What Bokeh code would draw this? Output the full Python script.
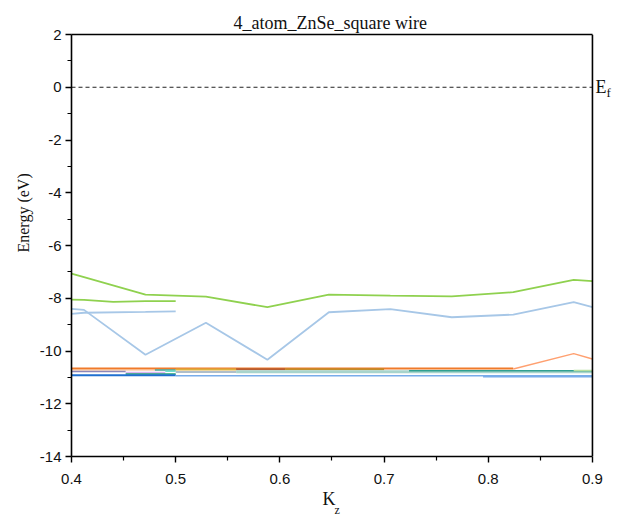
from bokeh.plotting import figure
from bokeh.models import Range1d, FixedTicker, Span, Label, Title, LinearAxis
from bokeh.embed import file_html
from bokeh.resources import INLINE

# ---------------- data ----------------
kz = [0.4, 0.412, 0.471, 0.529, 0.588, 0.647, 0.706, 0.765, 0.824, 0.882, 0.9]
green_1 = [-7.07, -7.2, -7.86, -7.94, -8.34, -7.86, -7.9, -7.93, -7.77, -7.3, -7.35]
blue_1 = [-8.4, -8.44, -10.14, -8.93, -10.33, -8.53, -8.41, -8.72, -8.62, -8.15, -8.34]

kz_short_g = [0.4, 0.412, 0.44, 0.471, 0.5]
green_2 = [-8.05, -8.06, -8.14, -8.11, -8.11]
kz_short_b = [0.4, 0.412, 0.471, 0.5]
blue_2 = [-8.59, -8.55, -8.52, -8.5]

kz_rise = [0.824, 0.882, 0.9]
orange_rise = [-10.68, -10.1, -10.3]

# nearly flat lower bands: start k, end k, energy
cluster_k0 = [0.4, 0.4, 0.48, 0.5, 0.558, 0.605, 0.4, 0.452, 0.49, 0.5, 0.558, 0.724, 0.452, 0.4, 0.5, 0.795, 0.882]
cluster_k1 = [0.824, 0.48, 0.5, 0.558, 0.605, 0.7, 0.452, 0.49, 0.5, 0.558, 0.9, 0.9, 0.5, 0.5, 0.9, 0.9, 0.9]
cluster_e = [-10.66, -10.71, -10.72, -10.70, -10.69, -10.69, -10.78, -10.82, -10.77, -10.80, -10.79, -10.75, -10.87, -10.92, -10.94, -10.98, -10.74]

fermi_level = 0.0
x_ticks = [0.4, 0.5, 0.6, 0.7, 0.8, 0.9]
x_minor = [0.45, 0.55, 0.65, 0.75, 0.85]
y_ticks = [-14, -12, -10, -8, -6, -4, -2, 0, 2]
y_minor = [-13, -11, -9, -7, -5, -3, -1, 1]

# ---------------- styles ----------------
cluster_colors = ["#f07a2a", "#f8b888", "#40a090", "#dcae3c", "#b85c30", "#c48a28",
                  "#8c86b8", "#dab4f2", "#70e0d0", "#94a8b8", "#a8d4cc", "#30a090",
                  "#20a070", "#1f6fd0", "#78acea", "#78acea", "#b8e0a0"]
cluster_widths = [2, 1.5, 1.5, 2, 2, 2, 1.5, 2, 1.5, 1.5, 3, 1.5, 1.5, 2, 1.5, 1.5, 1.5]

x_lo, x_hi = x_ticks[0], x_ticks[-1]

p = figure(width=613, height=517,
           x_range=Range1d(x_lo, 0.9202), y_range=Range1d(y_ticks[0], y_ticks[-1]),
           output_backend="svg", toolbar_location=None,
           min_border_left=71, min_border_right=0, min_border_top=34, min_border_bottom=61)

p.title.text = "4_atom_ZnSe_square wire"
p.title.align = "left"
p.title.offset = 162
p.title.text_font = "Liberation Serif"
p.title.text_font_size = "18px"
p.title.text_font_style = "normal"
p.title.text_color = "#111111"
p.title.standoff = 4

p.xgrid.visible = False
p.ygrid.visible = False
p.outline_line_color = None

for ax in (p.xaxis[0], p.yaxis[0]):
    ax.axis_line_width = 1.6
    ax.axis_line_color = "black"
    ax.major_tick_line_color = "black"
    ax.minor_tick_line_color = "black"
    ax.major_tick_line_width = 1.4
    ax.minor_tick_line_width = 1.2
    ax.major_tick_in = 0
    ax.major_tick_out = 6
    ax.minor_tick_in = 0
    ax.minor_tick_out = 4
    ax.major_label_text_font = "Liberation Sans"
    ax.major_label_text_font_size = "15px"
    ax.major_label_text_color = "#111111"

p.xaxis[0].bounds = (x_lo, x_hi)
p.xaxis[0].ticker = FixedTicker(ticks=x_ticks, minor_ticks=x_minor)
p.yaxis[0].ticker = FixedTicker(ticks=y_ticks, minor_ticks=y_minor)
p.yaxis[0].major_label_overrides = {t: str(t) for t in y_ticks}
p.xaxis[0].major_label_standoff = 11
p.yaxis[0].major_label_standoff = 4

# y axis title, placed off-centre as in the reference
p.add_layout(Title(text="Energy (eV)", align="left", offset=204, text_font="Liberation Serif",
                   text_font_size="16px", text_font_style="normal", text_color="#111111",
                   standoff=9), "left")

# top border as a bare axis, right border as a span
top = LinearAxis(bounds=(x_lo, x_hi), ticker=FixedTicker(ticks=[], minor_ticks=[]),
                 axis_line_width=1.6, axis_line_color="black",
                 major_tick_out=0, minor_tick_out=0, major_label_standoff=0)
p.add_layout(top, "above")
p.add_layout(Span(location=x_hi, dimension="height", line_color="black", line_width=1.6))

# Fermi level
p.line([x_lo, x_hi], [fermi_level, fermi_level], line_color="#222222", line_dash="4 3", line_width=1)

# bands
for k0, k1, e, c, w in zip(cluster_k0, cluster_k1, cluster_e, cluster_colors, cluster_widths):
    p.line([k0, k1], [e, e], line_color=c, line_width=w)

p.line(kz_rise, orange_rise, line_color="#ffa070", line_width=1.5)
p.line(kz_short_b, blue_2, line_color="#a7c7e7", line_width=1.8)
p.line(kz, blue_1, line_color="#a7c7e7", line_width=1.8)
p.line(kz_short_g, green_2, line_color="#8fd14f", line_width=1.8)
p.line(kz, green_1, line_color="#8fd14f", line_width=1.8)

# E_f label
p.add_layout(Label(x=x_hi, y=fermi_level, x_offset=3, y_offset=0, text="E",
                   text_font="Liberation Serif", text_font_size="18px", text_color="#111111",
                   text_baseline="middle", text_align="left"))
p.add_layout(Label(x=x_hi, y=fermi_level, x_offset=14, y_offset=-5, text="f",
                   text_font="Liberation Serif", text_font_size="13px", text_color="#111111",
                   text_baseline="middle", text_align="left"))

# K_z axis label
p.add_layout(Title(text="K", align="left", offset=251, text_font="Liberation Serif",
                   text_font_size="18px", text_font_style="normal", text_color="#111111",
                   standoff=0), "below")
p.add_layout(Title(text="z", align="left", offset=263, text_font="Liberation Serif",
                   text_font_size="12px", text_font_style="normal", text_color="#111111",
                   standoff=-15), "below")

open("out.html", "w").write(file_html(p, INLINE))
